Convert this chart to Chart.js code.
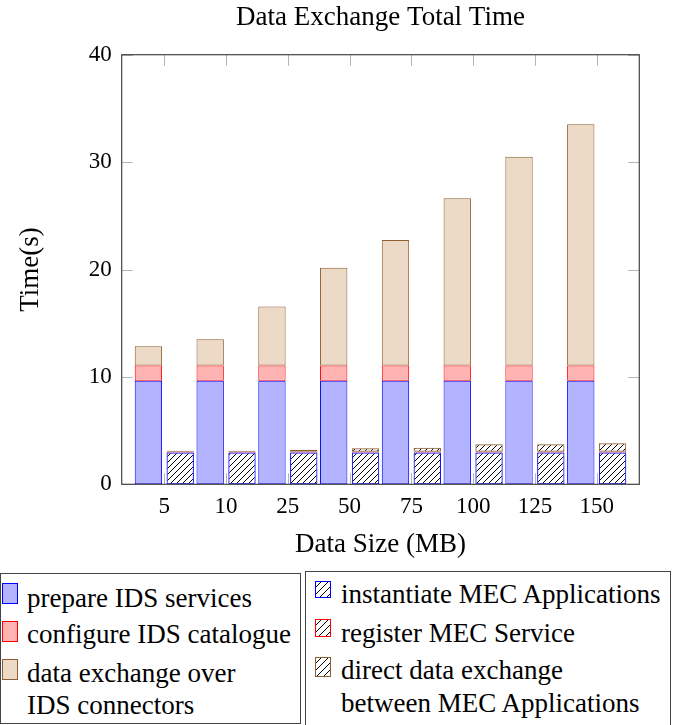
<!DOCTYPE html>
<html>
<head>
<meta charset="utf-8">
<script src="https://cdn.jsdelivr.net/npm/chart.js@4/dist/chart.umd.min.js"></script>
<style>
  html, body { margin: 0; padding: 0; background: #fff; }
  #wrap { position: relative; width: 685px; height: 725px; overflow: hidden; background: #fff; }
  #c { position: absolute; left: 0; top: 0; }
  .box { position: absolute; border: 1px solid #444; box-sizing: border-box; }
  .sw { position: absolute; box-sizing: border-box; border: 1px solid; }
  .hatch { background: repeating-linear-gradient(135deg, #fff 0 3px, #000 3px 4px, #fff 4px 5px); }
  .lt { position: absolute; font-family: "Liberation Serif", "Times New Roman", serif; font-size: 27px; line-height: 30px; white-space: nowrap; color: #000; }
</style>
</head>
<body>
<div id="wrap">
  <canvas id="c" width="685" height="565"></canvas>

  <div class="box" style="left:0px; top:573px; width:301px; height:151px;"></div>
  <div class="sw" style="left:2px; top:583px; width:16px; height:21px; background:#b3b3ff; border-color:#0000ff;"></div>
  <div class="sw" style="left:2px; top:621px; width:16px; height:21px; background:#ffb3b3; border-color:#ff0000;"></div>
  <div class="sw" style="left:2px; top:659px; width:16px; height:21px; background:#ecd9c6; border-color:#8c5e32;"></div>
  <div class="lt" id="l1" style="left:27px; top:583px;"></div>
  <div class="lt" id="l2" style="left:27px; top:619px;"></div>
  <div class="lt" id="l3" style="left:27px; top:658px;"></div>
  <div class="lt" id="l4" style="left:27px; top:690px;"></div>

  <div class="box" style="left:305px; top:571px; width:366px; height:160px;"></div>
  <div class="sw hatch" style="left:315px; top:581px; width:16px; height:17px; border-color:#0000ff;"></div>
  <div class="sw hatch" style="left:315px; top:619px; width:16px; height:18px; border-color:#ff0000;"></div>
  <div class="sw hatch" style="left:315px; top:657px; width:16px; height:20px; border-color:#8c5e32;"></div>
  <div class="lt" id="r1" style="left:341px; top:579px;"></div>
  <div class="lt" id="r2" style="left:341px; top:618px;"></div>
  <div class="lt" id="r3" style="left:341px; top:655px;"></div>
  <div class="lt" id="r4" style="left:341px; top:688px;"></div>
</div>
<script>
// ---- data ----
const sizeLabels = ['5', '10', '25', '50', '75', '100', '125', '150'];
const prepareIDS = [9.65, 9.65, 9.65, 9.65, 9.65, 9.65, 9.65, 9.65];
const configureIDS = [1.4, 1.4, 1.4, 1.4, 1.4, 1.4, 1.4, 1.4];
const exchangeIDS = [1.8, 2.45, 5.5, 9.12, 11.7, 15.58, 19.45, 22.47];
const instantiateMEC = [2.95, 2.95, 2.95, 2.95, 2.95, 2.95, 2.95, 2.95];
const registerMEC = [0.08, 0.08, 0.08, 0.08, 0.08, 0.08, 0.08, 0.08];
const exchangeMEC = [0.1, 0.1, 0.18, 0.33, 0.37, 0.7, 0.7, 0.8];
const yTicks = [0, 10, 20, 30, 40];

const legendLeft = ['prepare IDS services', 'configure IDS catalogue', 'data exchange over', 'IDS connectors'];
const legendRight = ['instantiate MEC Applications', 'register MEC Service', 'direct data exchange', 'between MEC Applications'];
['l1','l2','l3','l4'].forEach((id, i) => document.getElementById(id).textContent = legendLeft[i]);
['r1','r2','r3','r4'].forEach((id, i) => document.getElementById(id).textContent = legendRight[i]);

// hatch pattern
function makeHatch() {
  const s = 6;
  const pc = document.createElement('canvas');
  pc.width = s; pc.height = s;
  const g = pc.getContext('2d');
  g.strokeStyle = '#000';
  g.lineWidth = 1;
  g.beginPath();
  g.moveTo(-1, s + 1); g.lineTo(s + 1, -1);
  g.moveTo(-1, 1); g.lineTo(1, -1);
  g.moveTo(s - 1, s + 1); g.lineTo(s + 1, s - 1);
  g.stroke();
  return g.createPattern(pc, 'repeat');
}
const ctx0 = document.getElementById('c').getContext('2d');
const hatch = makeHatch();

const toXY = arr => arr.map((v, i) => ({ x: i, y: v }));
const serif = '"Liberation Serif", "Times New Roman", serif';

const frameAndTicks = {
  id: 'frameAndTicks',
  beforeDatasetsDraw(chart) {
    const { ctx, chartArea: { left, right, top, bottom }, scales: { x, y } } = chart;
    ctx.save();
    ctx.strokeStyle = '#b4b4b4';
    ctx.lineWidth = 1;
    ctx.beginPath();
    x.ticks.forEach(t => {
      const px = Math.round(x.getPixelForValue(t.value)) + 0.5;
      ctx.moveTo(px, bottom); ctx.lineTo(px, bottom - 11);
      ctx.moveTo(px, top); ctx.lineTo(px, top + 11);
    });
    y.ticks.forEach(t => {
      const py = Math.round(y.getPixelForValue(t.value)) + 0.5;
      ctx.moveTo(left, py); ctx.lineTo(left + 11, py);
      ctx.moveTo(right, py); ctx.lineTo(right - 11, py);
    });
    ctx.stroke();
    ctx.restore();
  },
  afterDatasetsDraw(chart) {
    const { ctx, chartArea: { left, right, top, bottom } } = chart;
    ctx.save();
    ctx.strokeStyle = '#444';
    ctx.lineWidth = 1.2;
    ctx.strokeRect(left, top, right - left, bottom - top);
    ctx.restore();
  },
  afterLayout(chart) {
    if (chart.titleBlock) {
      chart.titleBlock.left = chart.chartArea.left;
      chart.titleBlock.right = chart.chartArea.right;
      chart.titleBlock.width = chart.chartArea.right - chart.chartArea.left;
    }
  }
};

const common = { borderWidth: 1, borderSkipped: false, categoryPercentage: 1.03, barPercentage: 0.86 };

new Chart(ctx0, {
  type: 'bar',
  data: {
    datasets: [
      { label: 'prepare IDS services', data: toXY(prepareIDS), stack: 'ids', backgroundColor: '#b3b3ff', borderColor: '#0000ff', ...common },
      { label: 'configure IDS catalogue', data: toXY(configureIDS), stack: 'ids', backgroundColor: '#ffb3b3', borderColor: '#ff0000', ...common },
      { label: 'data exchange over IDS connectors', data: toXY(exchangeIDS), stack: 'ids', backgroundColor: '#ecd9c6', borderColor: '#8c5e32', ...common },
      { label: 'instantiate MEC Applications', data: toXY(instantiateMEC), stack: 'mec', backgroundColor: hatch, borderColor: '#0000ff', ...common },
      { label: 'register MEC Service', data: toXY(registerMEC), stack: 'mec', backgroundColor: hatch, borderColor: '#ff0000', ...common },
      { label: 'direct data exchange between MEC Applications', data: toXY(exchangeMEC), stack: 'mec', backgroundColor: hatch, borderColor: '#8c5e32', ...common }
    ]
  },
  plugins: [frameAndTicks],
  options: {
    responsive: false,
    animation: false,
    devicePixelRatio: 1,
    layout: { padding: { left: 0, right: 45.7, top: 0, bottom: 0 } },
    plugins: {
      legend: { display: false },
      tooltip: { enabled: false },
      title: {
        display: true,
        text: 'Data Exchange Total Time',
        color: '#000',
        font: { family: serif, size: 27, weight: 'normal', lineHeight: 1.2 },
        padding: { top: 1.6, bottom: 20.7 }
      }
    },
    scales: {
      x: {
        type: 'linear',
        stacked: true,
        offset: false,
        min: -0.69,
        max: 7.69,
        grid: { display: false, drawTicks: false, offset: false },
        border: { display: false },
        afterBuildTicks: s => { s.ticks = sizeLabels.map((_, i) => ({ value: i })); },
        afterFit: s => { s.height = 565 - 484.3; },
        ticks: {
          color: '#000',
          padding: 9,
          maxRotation: 0,
          autoSkip: false,
          font: { family: serif, size: 23 },
          callback: v => (sizeLabels[v] !== undefined ? sizeLabels[v] : '')
        },
        title: {
          display: true,
          text: 'Data Size (MB)',
          color: '#000',
          font: { family: serif, size: 27, lineHeight: 1.2 },
          padding: { top: 0, bottom: 3.8 }
        }
      },
      y: {
        stacked: true,
        min: 0,
        max: 40,
        grid: { display: false, drawTicks: false },
        border: { display: false },
        afterBuildTicks: s => { s.ticks = yTicks.map(v => ({ value: v })); },
        afterFit: s => { s.width = 121.7; },
        ticks: {
          color: '#000',
          padding: 10,
          font: { family: serif, size: 23 },
          callback: v => String(v)
        },
        title: {
          display: true,
          text: 'Time(s)',
          color: '#000',
          font: { family: serif, size: 27, lineHeight: 1.2 },
          padding: { top: 14.8, bottom: 0 }
        }
      }
    }
  }
});
</script>
</body>
</html>
